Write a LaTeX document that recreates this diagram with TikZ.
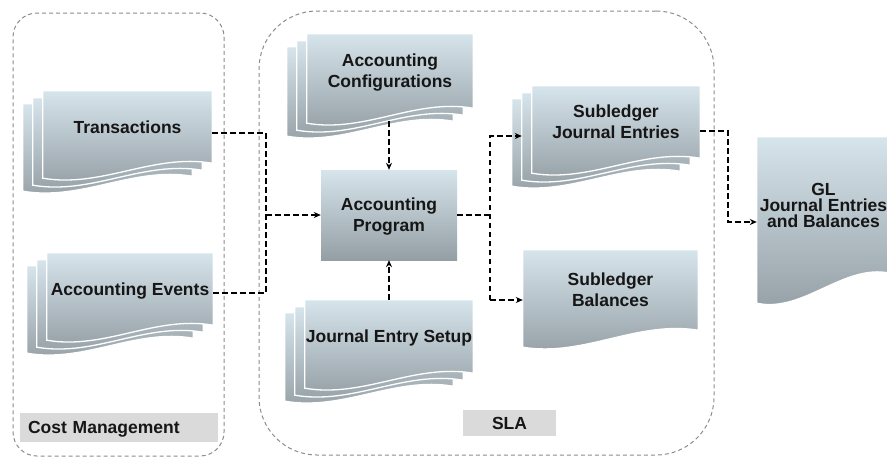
\documentclass[tikz,border=0pt]{standalone}
\usepackage{fontspec}
\setmainfont{Liberation Sans}
\usetikzlibrary{calc,arrows.meta}
\pgfdeclarelayer{pages}
\pgfsetlayers{pages,main}

\definecolor{pagetop}{RGB}{214,228,235}
\definecolor{pagebot}{RGB}{148,159,165}
\definecolor{groupline}{RGB}{140,140,140}
\definecolor{tagfill}{RGB}{218,218,218}
\definecolor{ink}{RGB}{22,22,22}

\tikzset{
  pagefill/.style={top color=pagetop, bottom color=pagebot, draw=white, line width=1.3pt},
  doc/.style={inner sep=0pt, align=center, text depth=0pt, text=ink,
    font=\fontsize{17.5}{21}\selectfont\bfseries},
  progbox/.style={doc, top color=pagetop, bottom color=pagebot},
  group/.style={draw=groupline, dash pattern=on 4pt off 3pt, line width=1pt, inner sep=0pt},
  tag/.style={fill=tagfill, inner sep=0pt, text=ink, text depth=0pt,
    font=\fontsize{17.5}{21}\selectfont\bfseries},
  conn/.style={draw=black, line width=2pt, dash pattern=on 5.5pt off 3.5pt},
  flow/.style={conn, -{Stealth[length=7pt,width=6pt]}}
}

% one sheet behind/under a document node: #1 node, #2/#3 offset,
% #4 drop of the lower left corner, #5 depth of the wave
\newcommand\docpage[5]{%
  \begin{pgfonlayer}{pages}
  \path[pagefill]
    ($(#1.north west)+(#2,#3)$) -- ($(#1.north east)+(#2,#3)$)
    -- ($(#1.south east)+(#2,#3)$)
    .. controls ($(#1.south east)!0.35!(#1.south west)+(#2,{#3-#5})$)
    and ($(#1.south west)!0.35!(#1.south east)+(#2,{#3+#4+#5})$)
    .. ($(#1.south west)+(#2,{#3+#4})$) -- cycle;
  \end{pgfonlayer}}
% a stack of three sheets
\newcommand\docstack[3]{%
  \docpage{#1}{-20}{13}{#2}{#3}%
  \docpage{#1}{-10}{7}{#2}{#3}%
  \docpage{#1}{0}{0}{#2}{#3}}

\begin{document}
\begin{tikzpicture}[x=1pt,y=-1pt]
\useasboundingbox (0,0) rectangle (887,459);

% groups
\node[group, rounded corners=24, minimum width=211, minimum height=443]
  (cmgroup) at (118.5,234.5) {};
\node[group, rounded corners=58, minimum width=455, minimum height=444]
  (slagroup) at (486.5,233) {};
\node[tag, minimum width=198, minimum height=29, text width=182, inner xsep=8,
  align=left] (cmtag) at (119,427.5) {Cost Management};
\node[tag, minimum width=93, minimum height=26] (slatag) at (509.5,423) {SLA};

% documents
\node[doc, minimum width=169, minimum height=72] (trans) at (127.5,127) {Transactions};
\node[doc, minimum width=166, minimum height=72] (events) at (130,289) {Accounting Events};
\node[doc, minimum width=166, minimum height=74] (config) at (390,71) {Accounting\\Configurations};
\node[doc, minimum width=168, minimum height=73] (jes) at (389,336.5) {Journal Entry Setup};
\node[doc, minimum width=168, minimum height=72] (sje) at (616,122) {Subledger\\Journal Entries};
\node[doc, minimum width=175, minimum height=80] (sbal) at (610.5,290) {Subledger\\Balances};
\node[doc, minimum width=133, minimum height=136, font=\fontsize{17.5}{16}\selectfont\bfseries]
  (gl) at (823.5,205) {GL\\Journal Entries\\and Balances};
\node[progbox, minimum width=136, minimum height=90] (prog) at (389,215) {Accounting\\Program};

\docstack{trans}{15}{10}
\docstack{events}{15}{10}
\docstack{config}{15}{10}
\docstack{jes}{15}{10}
\docstack{sje}{15}{10}
\docpage{sbal}{0}{0}{17}{10}
\docpage{gl}{0}{0}{30}{10}

% connectors
\coordinate (xv) at (266,0);
\coordinate (xo) at (490,0);
\coordinate (xg) at (728,0);
\coordinate (tOut) at ($(trans.east)+(0,6)$);
\coordinate (eOut) at ($(events.east)+(0,4)$);
\coordinate (jeIn) at ($(sje.west)+(-10,14)$);
\coordinate (balIn) at ($(sbal.west)+(0,10)$);
\coordinate (jeOut) at ($(sje.east)+(0,9)$);
\coordinate (glIn) at ($(gl.west)+(0,17)$);

\draw[conn] (tOut) -- (tOut -| xv) -- (eOut -| xv) -- (eOut);
\draw[flow] (prog.west -| xv) -- (prog.west);
\draw[flow] (prog.north |- config.south) ++(0,13) -- (prog.north);
\draw[flow] (prog.south |- jes.north) -- (prog.south);
\draw[conn] (prog.east) -- (prog.east -| xo);
\draw[flow] (balIn -| xo) -- (jeIn -| xo) -- (jeIn);
\draw[flow] (balIn -| xo) -- (balIn);
\draw[flow] (jeOut) -- (jeOut -| xg) -- (glIn -| xg) -- (glIn);
\end{tikzpicture}
\end{document}
